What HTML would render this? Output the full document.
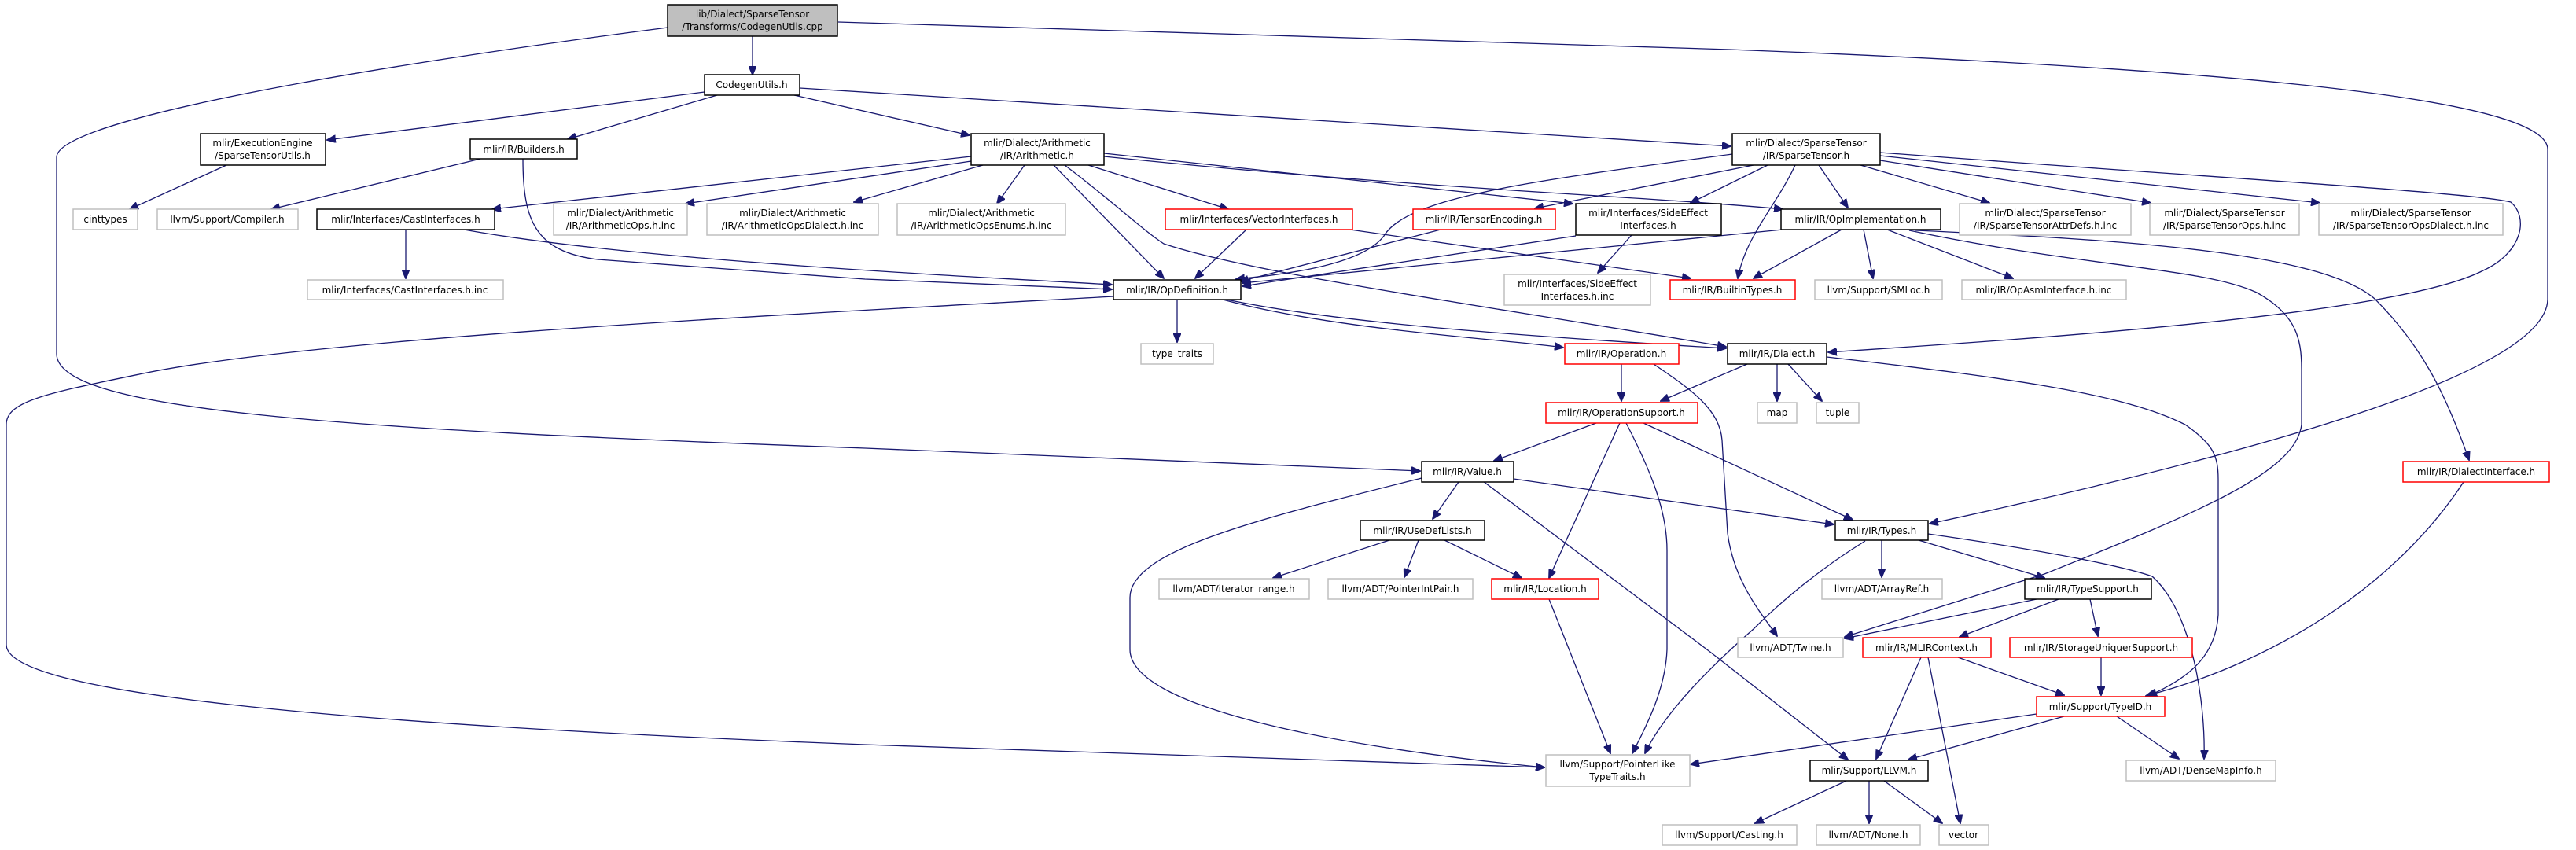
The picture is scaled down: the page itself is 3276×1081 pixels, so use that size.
<!DOCTYPE html>
<html><head><meta charset="utf-8">
<style>
html,body{margin:0;padding:0;background:#fff;}
svg{display:block;}
text{font-family:"DejaVu Sans","Liberation Sans",sans-serif;font-size:12px;fill:#000;}
.e{fill:none;stroke:#191970;stroke-width:1.3;marker-end:url(#ah);}
.nb{fill:#fff;stroke:#000;stroke-width:1.5;}
.ng{fill:#fff;stroke:#bfbfbf;stroke-width:1.5;}
.nr{fill:#fff;stroke:#ff0000;stroke-width:1.5;}
</style></head>
<body>
<svg width="3276" height="1081" viewBox="0 0 3276 1081" xmlns="http://www.w3.org/2000/svg">
<defs>
<marker id="ah" markerWidth="12" markerHeight="10" refX="11" refY="5" orient="auto" markerUnits="userSpaceOnUse">
<path d="M0,0 L12,5 L0,10 Z" fill="#191970" stroke="#191970"/>
</marker>
</defs>

<!-- edges -->
<path class="e" d="M957,46 L957,95"/>
<path class="e" d="M849,35 C500,80 72,150 72,200 L72,450 C72,520 400,545 1100,570 L1806,599"/>
<path class="e" d="M1066,28 L2200,63 C2900,90 3240,130 3240,190 L3240,380 C3240,470 2900,570 2454,666"/>
<path class="e" d="M896,117 L416,178"/>
<path class="e" d="M912,121 L722,177"/>
<path class="e" d="M1010,121 L1233,172"/>
<path class="e" d="M1017,112 L2201,186"/>
<path class="e" d="M288,210 L165,266"/>
<path class="e" d="M611,202 L345,266"/>
<path class="e" d="M665,202 C665,280 680,320 760,330 L1100,355 L1414,368"/>
<path class="e" d="M1235,199 L626,266"/>
<path class="e" d="M1235,205 L872,259"/>
<path class="e" d="M1250,210 L1086,257"/>
<path class="e" d="M1303,210 L1268,259"/>
<path class="e" d="M1340,210 L1480,354"/>
<path class="e" d="M1354,210 C1420,260 1450,290 1480,310 C1600,350 1900,390 2195,441"/>
<path class="e" d="M1384,210 L1562,266"/>
<path class="e" d="M1404,195 L2000,259"/>
<path class="e" d="M1404,199 C1800,240 2100,250 2267,266"/>
<path class="e" d="M590,292 C800,330 1200,350 1414,362"/>
<path class="e" d="M516,292 L516,354"/>
<path class="e" d="M1585,292 L1520,354"/>
<path class="e" d="M1717,292 L2150,354"/>
<path class="e" d="M1832,292 L1577,358"/>
<path class="e" d="M2004,300 L1580,364"/>
<path class="e" d="M2075,299 L2032,347"/>
<path class="e" d="M2203,196 C1950,230 1790,250 1760,300 C1730,340 1620,350 1572,355"/>
<path class="e" d="M2230,210 L1952,265"/>
<path class="e" d="M2248,210 L2150,258"/>
<path class="e" d="M2283,210 C2260,260 2220,300 2210,354"/>
<path class="e" d="M2313,210 L2350,264"/>
<path class="e" d="M2366,210 L2530,258"/>
<path class="e" d="M2391,204 L2735,258"/>
<path class="e" d="M2391,198 L2950,258"/>
<path class="e" d="M2391,194 C2800,225 3150,245 3193,257 C3215,275 3210,320 3158,344 C3050,400 2600,430 2325,448"/>
<path class="e" d="M2267,292 L2176,301 L1580,360"/>
<path class="e" d="M2342,292 L2230,354"/>
<path class="e" d="M2370,292 L2382,354"/>
<path class="e" d="M2400,292 L2560,354"/>
<path class="e" d="M2428,293 C2650,340 2800,340 2870,372 C2920,400 2927,430 2927,470 L2927,540 C2920,600 2800,650 2600,730 L2346,810"/>
<path class="e" d="M2436,293 C2700,305 2950,320 3020,380 C3080,440 3110,500 3140,585"/>
<path class="e" d="M1497,381 L1497,435"/>
<path class="e" d="M1555,381 C1700,420 1900,430 1988,442"/>
<path class="e" d="M1560,381 C1700,410 1900,425 2195,443"/>
<path class="e" d="M1416,377 C1000,400 400,430 182,475 C60,500 8,510 8,540 L8,820 C8,880 400,920 1100,947 L1964,976"/>
<path class="e" d="M2062,463 L2062,510"/>
<path class="e" d="M2103,463 C2150,495 2187,520 2190,560 L2197,678 C2205,740 2240,780 2260,809"/>
<path class="e" d="M2222,463 L2112,510"/>
<path class="e" d="M2260,463 L2260,510"/>
<path class="e" d="M2274,463 L2317,510"/>
<path class="e" d="M2323,454 C2550,480 2700,500 2779,540 C2815,565 2821,580 2821,610 L2821,782 C2818,830 2790,860 2732,885"/>
<path class="e" d="M2030,538 L1900,586"/>
<path class="e" d="M2090,538 L2356,661"/>
<path class="e" d="M2060,538 L1970,735"/>
<path class="e" d="M2068,538 C2100,600 2120,650 2120,700 L2120,826 C2118,880 2090,930 2076,958"/>
<path class="e" d="M1855,613 L1822,660"/>
<path class="e" d="M1925,609 L2332,667"/>
<path class="e" d="M1808,608 C1600,660 1437,700 1437,760 L1437,826 C1437,900 1700,950 1964,976"/>
<path class="e" d="M1886,612 L2176,830 L2350,966"/>
<path class="e" d="M1767,687 L1619,735"/>
<path class="e" d="M1804,687 L1786,734"/>
<path class="e" d="M1837,687 L1935,735"/>
<path class="e" d="M1970,762 L2048,958"/>
<path class="e" d="M2393,687 L2393,734"/>
<path class="e" d="M2440,687 L2600,735"/>
<path class="e" d="M2372,688 C2320,720 2270,760 2230,800 C2150,870 2110,920 2092,958"/>
<path class="e" d="M2452,679 C2600,700 2700,720 2737,733 C2790,780 2805,900 2803,965"/>
<path class="e" d="M2590,762 L2346,812"/>
<path class="e" d="M2618,762 L2492,810"/>
<path class="e" d="M2658,762 L2668,809"/>
<path class="e" d="M2443,836 L2386,965"/>
<path class="e" d="M2452,836 L2493,1047"/>
<path class="e" d="M2490,836 L2625,884"/>
<path class="e" d="M2672,836 L2672,884"/>
<path class="e" d="M3133,613 C3050,740 2900,840 2729,885"/>
<path class="e" d="M2590,908 L2150,972"/>
<path class="e" d="M2625,911 L2427,966"/>
<path class="e" d="M2692,911 L2771,965"/>
<path class="e" d="M2348,993 L2232,1047"/>
<path class="e" d="M2377,993 L2377,1047"/>
<path class="e" d="M2396,993 L2470,1047"/>

<!-- nodes -->
<g text-anchor="middle">
<rect x="849" y="6" width="216" height="40" fill="#bfbfbf" stroke="#000" stroke-width="1.5"/>
<text x="957" y="22">lib/Dialect/SparseTensor</text><text x="957" y="38">/Transforms/CodegenUtils.cpp</text>

<rect class="nb" x="896" y="95" width="121" height="26"/><text x="956" y="112">CodegenUtils.h</text>

<rect class="nb" x="255" y="170" width="159" height="40"/><text x="334" y="186">mlir/ExecutionEngine</text><text x="334" y="202">/SparseTensorUtils.h</text>
<rect class="nb" x="598" y="177" width="136" height="25"/><text x="666" y="194">mlir/IR/Builders.h</text>
<rect class="nb" x="1235" y="170" width="169" height="40"/><text x="1319" y="186">mlir/Dialect/Arithmetic</text><text x="1319" y="202">/IR/Arithmetic.h</text>
<rect class="nb" x="2203" y="170" width="188" height="40"/><text x="2297" y="186">mlir/Dialect/SparseTensor</text><text x="2297" y="202">/IR/SparseTensor.h</text>

<rect class="ng" x="93" y="266" width="82" height="26"/><text x="134" y="283">cinttypes</text>
<rect class="ng" x="200" y="266" width="179" height="26"/><text x="289" y="283">llvm/Support/Compiler.h</text>
<rect class="nb" x="403" y="266" width="226" height="26"/><text x="516" y="283">mlir/Interfaces/CastInterfaces.h</text>
<rect class="ng" x="704" y="259" width="170" height="40"/><text x="789" y="275">mlir/Dialect/Arithmetic</text><text x="789" y="291">/IR/ArithmeticOps.h.inc</text>
<rect class="ng" x="899" y="259" width="218" height="40"/><text x="1008" y="275">mlir/Dialect/Arithmetic</text><text x="1008" y="291">/IR/ArithmeticOpsDialect.h.inc</text>
<rect class="ng" x="1141" y="259" width="214" height="40"/><text x="1248" y="275">mlir/Dialect/Arithmetic</text><text x="1248" y="291">/IR/ArithmeticOpsEnums.h.inc</text>
<rect class="nr" x="1482" y="266" width="238" height="26"/><text x="1601" y="283">mlir/Interfaces/VectorInterfaces.h</text>
<rect class="nr" x="1797" y="266" width="181" height="26"/><text x="1887" y="283">mlir/IR/TensorEncoding.h</text>
<rect class="nb" x="2004" y="259" width="185" height="40"/><text x="2096" y="275">mlir/Interfaces/SideEffect</text><text x="2096" y="291">Interfaces.h</text>
<rect class="nb" x="2265" y="266" width="203" height="26"/><text x="2366" y="283">mlir/IR/OpImplementation.h</text>
<rect class="ng" x="2492" y="259" width="218" height="40"/><text x="2601" y="275">mlir/Dialect/SparseTensor</text><text x="2601" y="291">/IR/SparseTensorAttrDefs.h.inc</text>
<rect class="ng" x="2734" y="259" width="190" height="40"/><text x="2829" y="275">mlir/Dialect/SparseTensor</text><text x="2829" y="291">/IR/SparseTensorOps.h.inc</text>
<rect class="ng" x="2949" y="259" width="234" height="40"/><text x="3066" y="275">mlir/Dialect/SparseTensor</text><text x="3066" y="291">/IR/SparseTensorOpsDialect.h.inc</text>

<rect class="ng" x="391" y="356" width="249" height="25"/><text x="515" y="373">mlir/Interfaces/CastInterfaces.h.inc</text>
<rect class="nb" x="1416" y="356" width="162" height="25"/><text x="1497" y="373">mlir/IR/OpDefinition.h</text>
<rect class="ng" x="1913" y="349" width="186" height="39"/><text x="2006" y="365">mlir/Interfaces/SideEffect</text><text x="2006" y="381">Interfaces.h.inc</text>
<rect class="nr" x="2124" y="356" width="159" height="25"/><text x="2203" y="373">mlir/IR/BuiltinTypes.h</text>
<rect class="ng" x="2308" y="356" width="162" height="25"/><text x="2389" y="373">llvm/Support/SMLoc.h</text>
<rect class="ng" x="2495" y="356" width="209" height="25"/><text x="2599" y="373">mlir/IR/OpAsmInterface.h.inc</text>

<rect class="ng" x="1451" y="437" width="92" height="26"/><text x="1497" y="454">type_traits</text>
<rect class="nr" x="1990" y="437" width="145" height="26"/><text x="2062" y="454">mlir/IR/Operation.h</text>
<rect class="nb" x="2197" y="437" width="126" height="26"/><text x="2260" y="454">mlir/IR/Dialect.h</text>

<rect class="nr" x="1966" y="512" width="193" height="26"/><text x="2062" y="529">mlir/IR/OperationSupport.h</text>
<rect class="ng" x="2235" y="512" width="50" height="26"/><text x="2260" y="529">map</text>
<rect class="ng" x="2310" y="512" width="54" height="26"/><text x="2337" y="529">tuple</text>

<rect class="nb" x="1808" y="587" width="117" height="26"/><text x="1866" y="604">mlir/IR/Value.h</text>
<rect class="nr" x="3056" y="587" width="186" height="26"/><text x="3149" y="604">mlir/IR/DialectInterface.h</text>

<rect class="nb" x="1730" y="662" width="158" height="25"/><text x="1809" y="679">mlir/IR/UseDefLists.h</text>
<rect class="nb" x="2334" y="662" width="118" height="25"/><text x="2393" y="679">mlir/IR/Types.h</text>

<rect class="ng" x="1474" y="736" width="191" height="26"/><text x="1569" y="753">llvm/ADT/iterator_range.h</text>
<rect class="ng" x="1689" y="736" width="184" height="26"/><text x="1781" y="753">llvm/ADT/PointerIntPair.h</text>
<rect class="nr" x="1897" y="736" width="136" height="26"/><text x="1965" y="753">mlir/IR/Location.h</text>
<rect class="ng" x="2317" y="736" width="153" height="26"/><text x="2393" y="753">llvm/ADT/ArrayRef.h</text>
<rect class="nb" x="2575" y="736" width="161" height="26"/><text x="2655" y="753">mlir/IR/TypeSupport.h</text>

<rect class="ng" x="2210" y="811" width="134" height="25"/><text x="2277" y="828">llvm/ADT/Twine.h</text>
<rect class="nr" x="2369" y="811" width="163" height="25"/><text x="2450" y="828">mlir/IR/MLIRContext.h</text>
<rect class="nr" x="2556" y="811" width="232" height="25"/><text x="2672" y="828">mlir/IR/StorageUniquerSupport.h</text>

<rect class="nr" x="2590" y="886" width="163" height="25"/><text x="2671" y="903">mlir/Support/TypeID.h</text>

<rect class="ng" x="1966" y="960" width="183" height="40"/><text x="2057" y="976">llvm/Support/PointerLike</text><text x="2057" y="992">TypeTraits.h</text>
<rect class="nb" x="2302" y="967" width="150" height="26"/><text x="2377" y="984">mlir/Support/LLVM.h</text>
<rect class="ng" x="2704" y="967" width="190" height="26"/><text x="2799" y="984">llvm/ADT/DenseMapInfo.h</text>

<rect class="ng" x="2114" y="1049" width="171" height="26"/><text x="2199" y="1066">llvm/Support/Casting.h</text>
<rect class="ng" x="2310" y="1049" width="132" height="26"/><text x="2376" y="1066">llvm/ADT/None.h</text>
<rect class="ng" x="2466" y="1049" width="63" height="26"/><text x="2497" y="1066">vector</text>
</g>
</svg>
</body></html>
